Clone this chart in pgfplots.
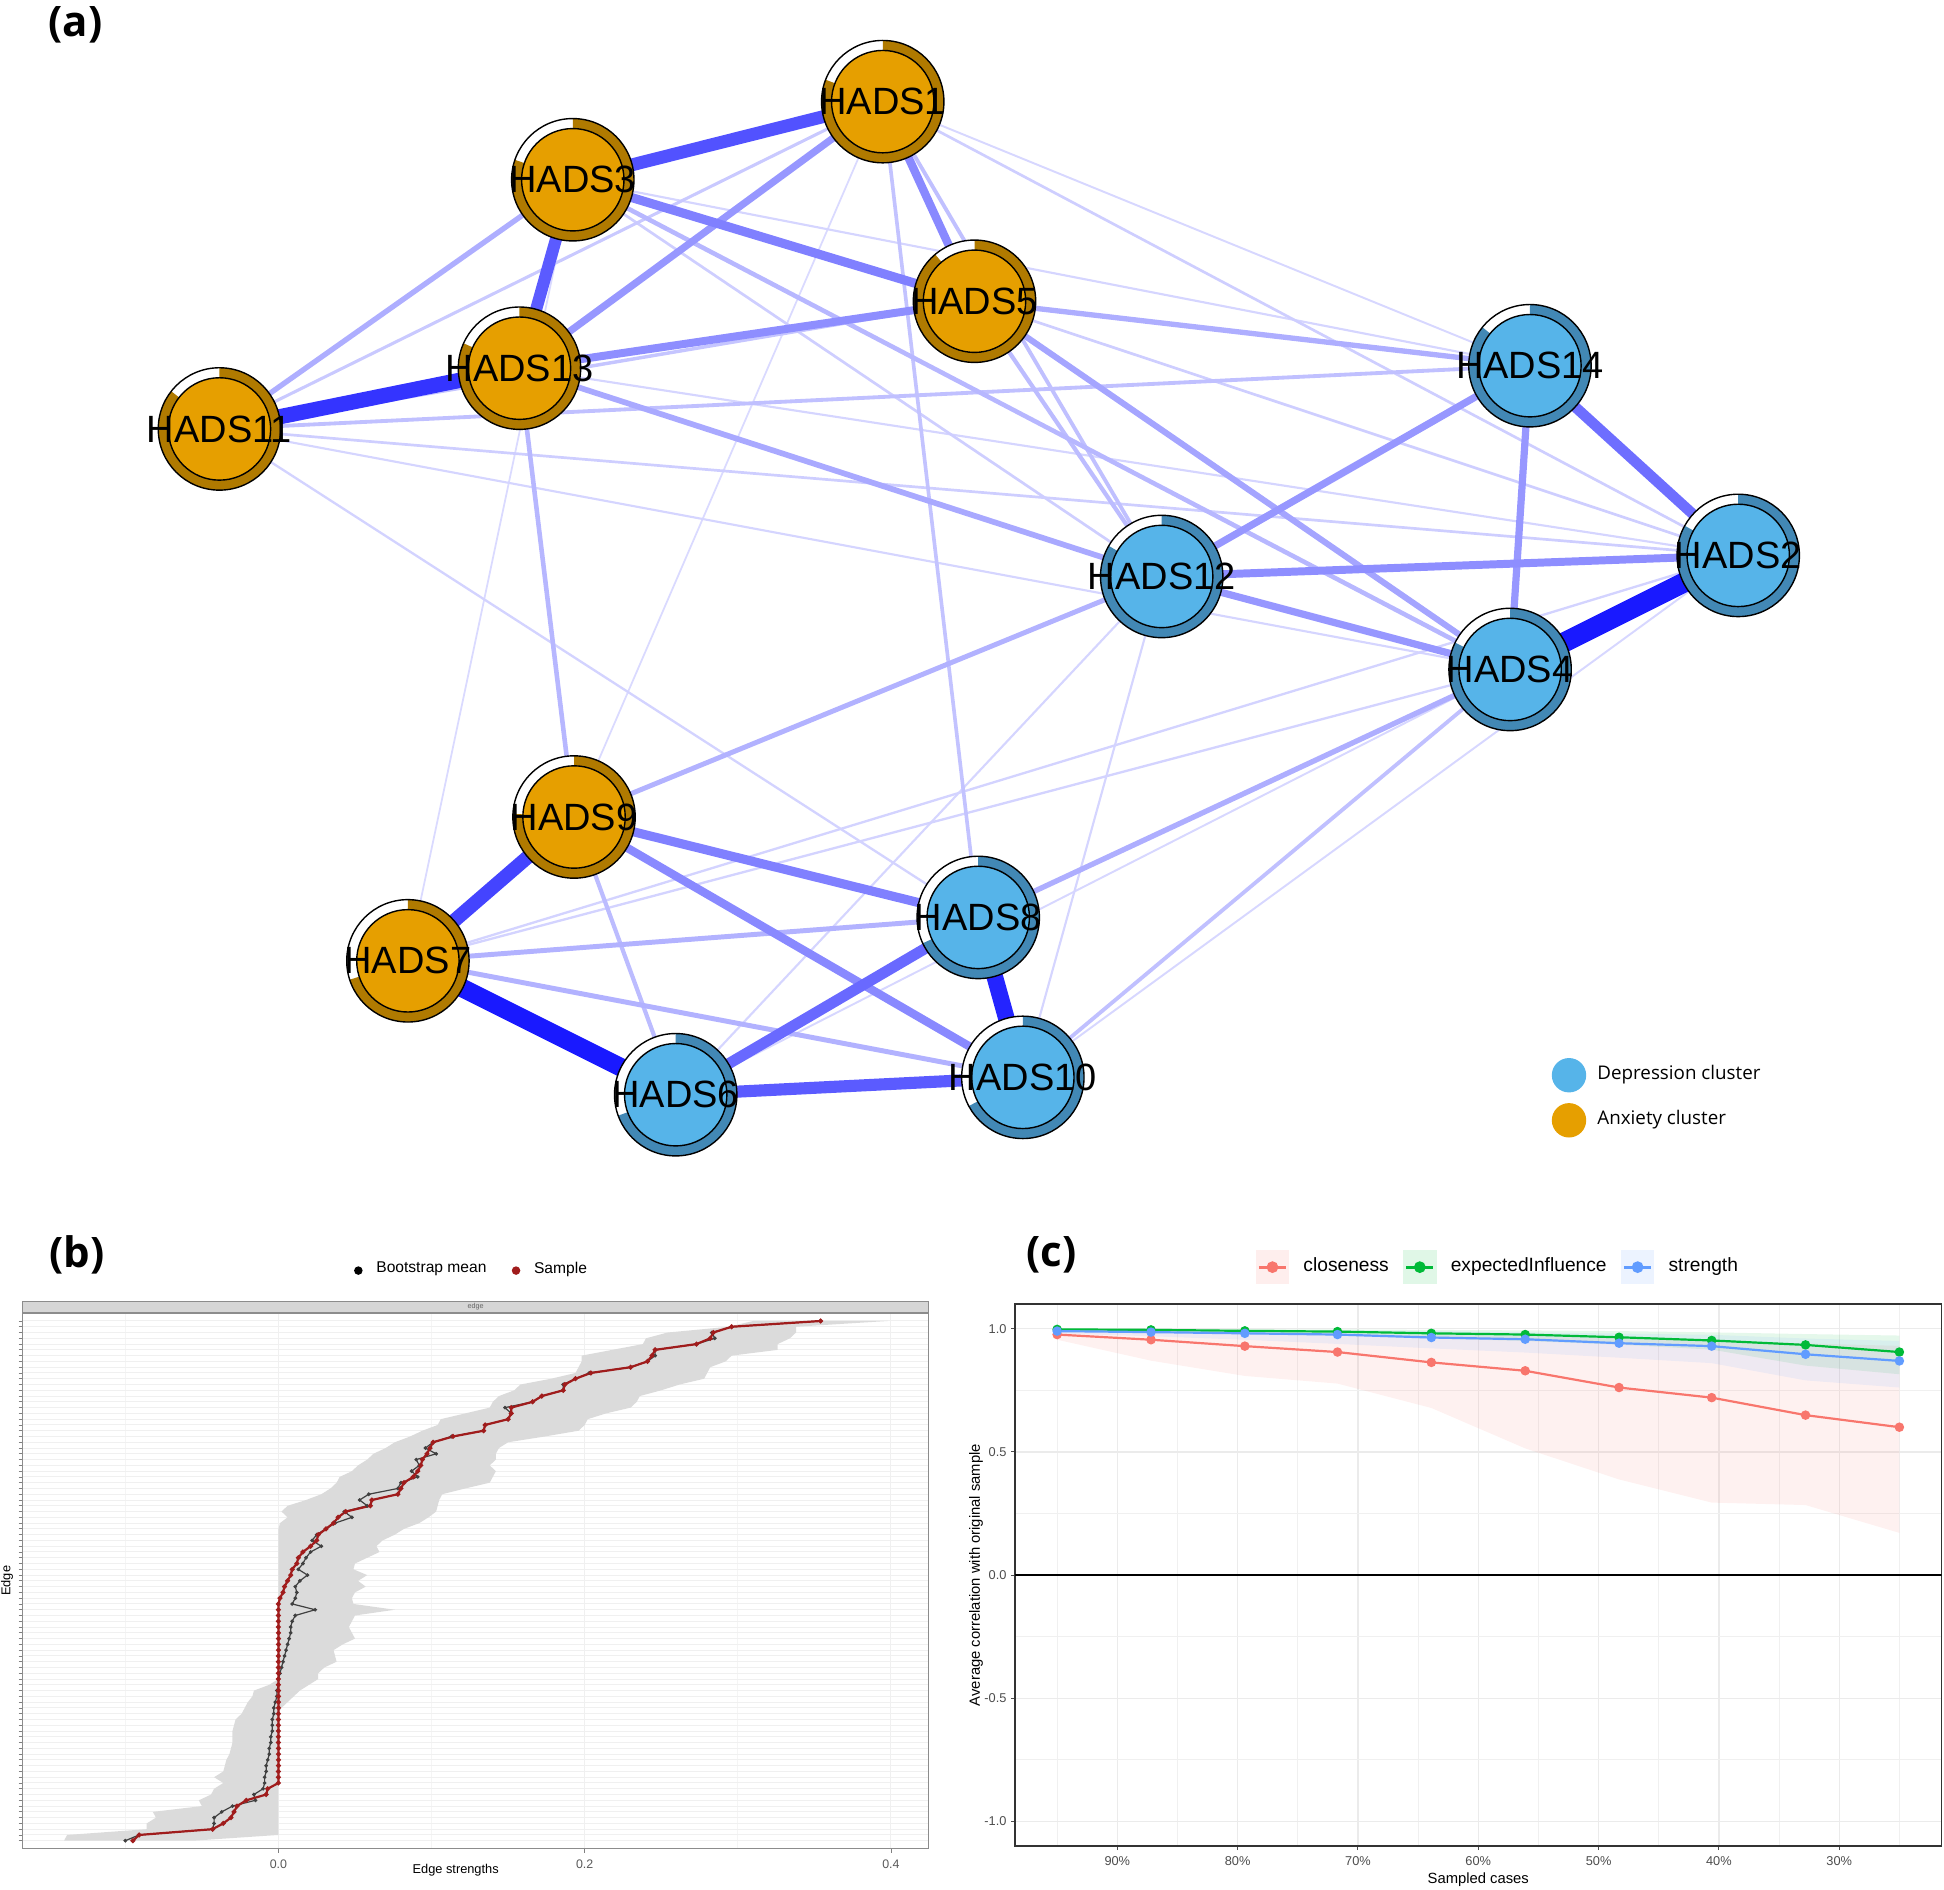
\documentclass[border=0pt]{standalone}
\usepackage{pgfplots}
\pgfplotsset{compat=1.18}
\usepackage{pgfplotstable}
\usepackage{fontspec}
\setmainfont{Liberation Sans}
\newfontfamily\opensans{Open Sans}

\definecolor{anxfill}{HTML}{E69F00}
\definecolor{anxring}{HTML}{B07A00}
\definecolor{depfill}{HTML}{56B4E9}
\definecolor{depring}{HTML}{4288B5}
\definecolor{closec}{HTML}{F8766D}
\definecolor{eic}{HTML}{00BA38}
\definecolor{strc}{HTML}{619CFF}
\definecolor{samplec}{HTML}{A01C1C}

\pgfplotsset{whiteang/.initial=60}

\newcommand\ringmark[2]{%
  \pgfmathsetmacro\pieend{\pgfkeysvalueof{/pgfplots/whiteang}-270}%
  \pgfsetlinewidth{0.35pt}%
  \pgfsetstrokecolor{black}%
  \pgfsetfillcolor{white}%
  \pgfpathcircle{\pgfpointorigin}{15.3pt}\pgfusepath{fill}%
  \pgfsetfillcolor{#1}%
  \pgfpathmoveto{\pgfpointorigin}%
  \pgfpathlineto{\pgfpointpolar{90}{15.3pt}}%
  \pgfpatharc{90}{\pieend}{15.3pt}%
  \pgfpathclose\pgfusepath{fill}%
  \pgfpathcircle{\pgfpointorigin}{15.3pt}\pgfusepath{stroke}%
  \pgfsetfillcolor{#2}%
  \pgfpathcircle{\pgfpointorigin}{12.8pt}\pgfusepath{fill,stroke}%
}
\pgfdeclareplotmark{hadsA}{\ringmark{anxring}{anxfill}}
\pgfdeclareplotmark{hadsD}{\ringmark{depring}{depfill}}

\newcommand\hadsfont{\fontsize{9.5}{10}\selectfont}

% node layout coordinates
\newcommand\N[3]{\expandafter\def\csname nx#1\endcsname{#2}\expandafter\def\csname ny#1\endcsname{#3}}
\N{1}{712}{82}
\N{3}{462}{145}
\N{5}{786}{243}
\N{13}{419}{297}
\N{11}{177}{346}
\N{14}{1234}{295}
\N{2}{1402}{448}
\N{12}{937}{465}
\N{4}{1218}{540}
\N{9}{463}{659}
\N{8}{789}{740}
\N{7}{329}{775}
\N{6}{545}{883}
\N{10}{825}{869}

% edge: node a, node b, relative weight (0-100)
\newcommand\E[3]{%
  \pgfmathsetmacro\ew{0.3+0.047*#3}%
  \pgfmathsetmacro\ec{min(90,12+0.9*#3)}%
  \edef\tmp{\noexpand\addplot[line width=\ew pt, color=blue!\ec!white, forget plot]
    coordinates {(\csname nx#1\endcsname,\csname ny#1\endcsname) (\csname nx#2\endcsname,\csname ny#2\endcsname)};}%
  \tmp}
% node ring: id, class, white arc angle
\newcommand\HN[3]{%
  \edef\tmp{\noexpand\addplot[only marks, mark=hads#2, whiteang=#3, forget plot]
    coordinates {(\csname nx#1\endcsname,\csname ny#1\endcsname)};}%
  \tmp}
% node label
\newcommand\HL[1]{%
  \edef\tmp{\noexpand\addplot[only marks, color=black, mark=text, text mark={\noexpand\hadsfont HADS#1}, forget plot]
    coordinates {(\csname nx#1\endcsname,\csname ny#1\endcsname)};}%
  \tmp}

\pgfplotstableread{
r samp mean
1 -0.095 -0.100
2 -0.091 -0.091
3 -0.043 -0.043
4 -0.036 -0.042
5 -0.031 -0.042
6 -0.029 -0.037
7 -0.027 -0.030
8 -0.021 -0.015
9 -0.008 -0.016
10 -0.007 -0.010
11 0 -0.009
12 0 -0.009
13 0 -0.008
14 0 -0.008
15 0 -0.007
16 0 -0.006
17 0 -0.006
18 0 -0.005
19 0 -0.005
20 0 -0.004
21 0 -0.004
22 0 -0.004
23 0 -0.003
24 0 -0.003
25 0 -0.002
26 0 -0.001
27 0 -0.001
28 0 0.000
29 0 0.000
30 0 0.001
31 0 0.002
32 0 0.003
33 0 0.004
34 0 0.005
35 0 0.006
36 0 0.007
37 0 0.008
38 0 0.008
39 0 0.009
40 0 0.011
41 0 0.024
42 0 0.009
43 0.001 0.011
44 0.003 0.012
45 0.004 0.011
46 0.006 0.014
47 0.008 0.019
48 0.009 0.013
49 0.012 0.016
50 0.013 0.018
51 0.016 0.021
52 0.021 0.028
53 0.025 0.022
54 0.026 0.025
55 0.031 0.031
56 0.036 0.037
57 0.039 0.048
58 0.044 0.043
59 0.060 0.058
60 0.061 0.053
61 0.078 0.059
62 0.080 0.078
63 0.082 0.080
64 0.088 0.091
65 0.091 0.087
66 0.093 0.092
67 0.094 0.090
68 0.097 0.103
69 0.099 0.096
70 0.101 0.101
71 0.114 0.113
72 0.134 0.134
73 0.135 0.135
74 0.150 0.150
75 0.152 0.152
76 0.152 0.148
77 0.166 0.166
78 0.172 0.172
79 0.186 0.186
80 0.187 0.186
81 0.194 0.194
82 0.204 0.203
83 0.230 0.230
84 0.241 0.241
85 0.244 0.246
86 0.246 0.246
87 0.273 0.273
88 0.282 0.285
89 0.284 0.283
90 0.296 0.296
91 0.354 0.354
}\bdata

% bootstrap CI band outline: lower bounds (rows 1..91), then upper bounds (rows 91..1)
\pgfplotstableread{
x y
-0.140 1
-0.138 2
-0.086 3
-0.086 4
-0.080 5
-0.082 6
-0.050 7
-0.052 8
-0.044 9
-0.042 10
-0.036 11
-0.042 12
-0.036 13
-0.035 14
-0.034 15
-0.032 16
-0.031 17
-0.030 18
-0.030 19
-0.030 20
-0.029 21
-0.028 22
-0.024 23
-0.022 24
-0.020 25
-0.017 26
-0.016 27
-0.006 28
0 29
0 55
0.001 56
0.006 57
0.002 58
0.006 59
0.018 60
0.028 61
0.034 62
0.038 63
0.040 64
0.048 65
0.052 66
0.058 67
0.062 68
0.070 69
0.076 70
0.086 71
0.094 72
0.104 73
0.106 74
0.122 75
0.138 76
0.140 77
0.144 78
0.154 79
0.158 80
0.178 81
0.194 82
0.196 83
0.198 84
0.198 85
0.218 86
0.238 87
0.240 88
0.254 89
0.294 90
0.310 91
0.398 91
0.338 90
0.338 89
0.334 88
0.326 87
0.326 86
0.296 85
0.292 84
0.282 83
0.280 82
0.278 81
0.262 80
0.250 79
0.236 78
0.234 77
0.230 76
0.214 75
0.202 74
0.200 73
0.196 72
0.174 71
0.150 70
0.144 69
0.142 68
0.142 67
0.138 66
0.142 65
0.140 64
0.138 63
0.122 62
0.107 61
0.105 60
0.104 59
0.103 58
0.098 57
0.092 56
0.082 55
0.076 54
0.068 53
0.064 52
0.066 51
0.058 50
0.050 49
0.049 48
0.058 47
0.052 46
0.057 45
0.050 44
0.048 43
0.049 42
0.076 41
0.050 40
0.048 39
0.046 38
0.048 37
0.050 36
0.042 35
0.036 34
0.037 33
0.038 32
0.030 31
0.026 30
0.026 29
0.020 28
0.014 27
0.010 26
0.006 25
0.002 24
0 23
0 2
-0.056 1
}\bband

\pgfplotstableread{
pct clo ei str
95 0.976 0.997 0.990
87.2 0.955 0.995 0.986
79.4 0.929 0.991 0.981
71.7 0.905 0.988 0.976
63.9 0.863 0.981 0.964
56.1 0.829 0.976 0.957
48.3 0.761 0.965 0.941
40.6 0.720 0.952 0.929
32.8 0.649 0.934 0.896
25 0.600 0.905 0.869
}\cdata

\begin{document}
\begin{tikzpicture}
\useasboundingbox (0pt,0pt) rectangle (486.08pt,472.44pt);

% ---------------- (a) network ----------------
\begin{axis}[at={(0pt,472.44pt)}, anchor=north west, scale only axis,
  width=486.08pt, height=297.6pt, xmin=0, xmax=1568, ymin=0, ymax=960, y dir=reverse,
  hide axis, clip=false,
  legend style={draw=none, fill=none, at={(axis cs:1251,852)}, anchor=north west,
     font=\opensans\fontsize{4.7}{5.6}\selectfont, row sep=2.2pt, inner sep=0pt},
  legend cell align=left,
  legend image code/.code={\path (0pt,0pt) (9.4pt,0pt); \path[#1] (4.3pt,0pt) circle (4.3pt);},
]
\E{9}{1}{3}
\E{7}{3}{3}
\E{10}{2}{4}
\E{6}{4}{4}
\E{1}{14}{4}
\E{11}{4}{5}
\E{3}{14}{5}
\E{13}{2}{5}
\E{6}{12}{5}
\E{10}{12}{5}
\E{7}{2}{6}
\E{7}{4}{6}
\E{11}{8}{6}
\E{11}{2}{8}
\E{3}{12}{8}
\E{5}{2}{8}
\E{1}{2}{8}
\E{11}{1}{10}
\E{11}{5}{12}
\E{10}{4}{14}
\E{1}{8}{13}
\E{1}{12}{14}
\E{11}{14}{14}
\E{9}{6}{16}
\E{5}{12}{16}
\E{3}{4}{18}
\E{13}{9}{18}
\E{9}{12}{20}
\E{7}{8}{20}
\E{7}{10}{20}
\E{5}{14}{22}
\E{11}{3}{22}
\E{8}{4}{22}
\E{13}{12}{24}
\E{5}{4}{26}
\E{13}{1}{32}
\E{12}{14}{32}
\E{12}{4}{32}
\E{14}{4}{32}
\E{13}{5}{36}
\E{12}{2}{36}
\E{1}{5}{38}
\E{9}{10}{38}
\E{3}{5}{42}
\E{9}{8}{42}
\E{14}{2}{50}
\E{6}{8}{52}
\E{3}{13}{58}
\E{6}{10}{58}
\E{3}{1}{62}
\E{7}{9}{68}
\E{11}{13}{75}
\E{8}{10}{82}
\E{7}{6}{92}
\E{4}{2}{100}
% nodes
\HN{1}{A}{69}
\HN{3}{A}{71}
\HN{5}{A}{40}
\HN{13}{A}{66}
\HN{11}{A}{52}
\HN{9}{A}{87}
\HN{7}{A}{108}
\HN{14}{D}{51}
\HN{2}{D}{61}
\HN{12}{D}{60}
\HN{4}{D}{64}
\HN{8}{D}{115}
\HN{6}{D}{110}
\HN{10}{D}{118}
\HL{1}\HL{3}\HL{5}\HL{13}\HL{11}\HL{9}\HL{7}
\HL{14}\HL{2}\HL{12}\HL{4}\HL{8}\HL{6}\HL{10}
\addlegendimage{fill=depfill, draw=none}
\addlegendentry{Depression cluster}
\addlegendimage{fill=anxfill, draw=none}
\addlegendentry{Anxiety cluster}
\end{axis}

% ---------------- (b) edge bootstrap ----------------
\begin{axis}[at={(5.673pt,10.23pt)}, anchor=south west, scale only axis,
  width=226.52pt, height=133.92pt,
  xmin=-0.167, xmax=0.4246, ymin=-0.35, ymax=92.4,
  xtick={0,0.2,0.4}, xticklabels={0.0,0.2,0.4}, minor xtick={-0.1,0.1,0.3},
  ytick={1,...,91}, yticklabels={},
  tick pos=left, tick align=outside, major tick length=1pt, minor tick length=0pt,
  tick style={black!50, line width=0.2pt},
  grid=both, major grid style={black!6, line width=0.25pt}, minor grid style={black!4, line width=0.2pt},
  axis line style={black!45, line width=0.4pt},
  ticklabel style={font=\fontsize{3.1}{3.5}\selectfont, text=black!65},
  xticklabel style={yshift=1.6pt},
  xlabel={Edge strengths}, ylabel={Edge},
  label style={font=\fontsize{3.2}{3.6}\selectfont, inner sep=0pt},
  xlabel style={at={(axis description cs:0.5,0)}, anchor=north, yshift=-3.8pt, xshift=-5pt},
  ylabel style={at={(axis description cs:-0.0097,0.5)}, anchor=south},
  every axis title shift=0pt,
  title={edge},
  title style={at={(axis description cs:0.5,1)}, anchor=south, yshift=0pt, fill=black!16, draw=black!45, line width=0.3pt,
     minimum width=226.52pt, minimum height=2.8pt, inner sep=0pt,
     font=\fontsize{1.8}{2}\selectfont, text=black!60},
  legend columns=2,
  legend style={draw=none, fill=none, at={(0.498,1.079)}, anchor=center,
     font=\fontsize{3.9}{4.5}\selectfont, /tikz/every even column/.append style={column sep=4pt}},
  legend image code/.code={\path (0pt,0pt) (3.5pt,0pt); \fill[#1] (1.2pt,0pt) circle (0.85pt);},
]
\addplot[fill=black!14, draw=none, forget plot] table[x=x, y=y] {\bband};
\addplot[black!75, line width=0.3pt, mark=*, mark size=0.3pt, forget plot] table[x=mean, y=r] {\bdata};
\addplot[samplec, line width=0.55pt, mark=*, mark size=0.3pt, forget plot] table[x=samp, y=r] {\bdata};
\addlegendimage{black}
\addlegendentry{Bootstrap mean}
\addlegendimage{samplec}
\addlegendentry{Sample}
\end{axis}

% ---------------- (c) case-drop stability ----------------
\begin{axis}[at={(253.80pt,10.85pt)}, anchor=south west, scale only axis,
  width=231.66pt, height=135.53pt,
  xmin=21.5, xmax=98.5, x dir=reverse, ymin=-1.1, ymax=1.1,
  xtick={30,40,50,60,70,80,90}, xticklabels={30\%,40\%,50\%,60\%,70\%,80\%,90\%},
  minor xtick={25,35,45,55,65,75,85,95},
  ytick={-1,-0.5,0,0.5,1}, yticklabels={-1.0,-0.5,0.0,0.5,1.0},
  minor ytick={-0.75,-0.25,0.25,0.75},
  tick pos=left, tick align=outside, major tick length=1pt, minor tick length=0pt,
  tick style={black!70, line width=0.25pt},
  grid=both, major grid style={black!8, line width=0.35pt}, minor grid style={black!6, line width=0.25pt},
  axis line style={black!80, line width=0.45pt},
  ticklabel style={font=\fontsize{3.2}{3.6}\selectfont, text=black!70},
  xticklabel style={yshift=1.9pt},
  yticklabel style={xshift=2.4pt},
  xlabel={Sampled cases}, ylabel={Average correlation with original sample},
  label style={font=\fontsize{3.7}{4.2}\selectfont, inner sep=0pt},
  xlabel style={at={(axis description cs:0.5,0)}, anchor=north, yshift=-6.6pt},
  ylabel style={at={(axis description cs:-0.0337,0.5)}, anchor=south},
  legend columns=3,
  legend style={draw=none, fill=none, at={(0.5236,1.068)}, anchor=center,
     font=\fontsize{4.8}{5.7}\selectfont, /tikz/every even column/.append style={column sep=1.2pt}},
  legend image code/.code={\path (0pt,0pt) (9.6pt,0pt);
     \fill[#1, fill opacity=0.12, draw=none] (0pt,-4.2pt) rectangle (8.4pt,4.2pt);
     \draw[#1, mark repeat=2, mark phase=2] plot coordinates {(0.8pt,0pt) (4.2pt,0pt) (7.6pt,0pt)};},
]
% bands: lower bounds 95%..25%, then upper bounds 25%..95%
\addplot[fill=closec, fill opacity=0.1, draw=none, forget plot] coordinates {
 (95,0.955) (87.2,0.870) (79.4,0.808) (71.7,0.777) (63.9,0.678) (56.1,0.514) (48.3,0.388) (40.6,0.294) (32.8,0.284) (25,0.171)
 (25,0.930) (32.8,0.940) (40.6,0.950) (48.3,0.960) (56.1,0.970) (63.9,0.975) (71.7,0.980) (79.4,0.985) (87.2,0.990) (95,0.990)};
\addplot[fill=eic, fill opacity=0.1, draw=none, forget plot] coordinates {
 (95,0.990) (87.2,0.985) (79.4,0.978) (71.7,0.972) (63.9,0.960) (56.1,0.950) (48.3,0.935) (40.6,0.915) (32.8,0.850) (25,0.815)
 (25,0.972) (32.8,0.978) (40.6,0.985) (48.3,0.990) (56.1,0.993) (63.9,0.995) (71.7,0.997) (79.4,0.998) (87.2,1.000) (95,1.000)};
\addplot[fill=strc, fill opacity=0.1, draw=none, forget plot] coordinates {
 (95,0.981) (87.2,0.969) (79.4,0.955) (71.7,0.938) (63.9,0.920) (56.1,0.903) (48.3,0.882) (40.6,0.860) (32.8,0.790) (25,0.761)
 (25,0.950) (32.8,0.960) (40.6,0.975) (48.3,0.980) (56.1,0.985) (63.9,0.990) (71.7,0.993) (79.4,0.995) (87.2,0.997) (95,0.998)};
\addplot[black, line width=0.45pt, forget plot] coordinates {(21.5,0) (98.5,0)};
\addplot[closec, line width=0.55pt, mark=*, mark size=0.9pt, forget plot] table[x=pct, y=clo] {\cdata};
\addplot[eic, line width=0.55pt, mark=*, mark size=0.9pt, forget plot] table[x=pct, y=ei] {\cdata};
\addplot[strc, line width=0.55pt, mark=*, mark size=0.9pt, forget plot] table[x=pct, y=str] {\cdata};
\addlegendimage{closec, line width=0.7pt, mark=*, mark size=1.1pt}
\addlegendentry{closeness}
\addlegendimage{eic, line width=0.7pt, mark=*, mark size=1.1pt}
\addlegendentry{expectedInfluence}
\addlegendimage{strc, line width=0.7pt, mark=*, mark size=1.1pt}
\addlegendentry{strength}
\end{axis}

\node[font=\opensans\bfseries\fontsize{10.5}{12}\selectfont] at (18.9pt,466.2pt) {(a)};
\node[font=\opensans\bfseries\fontsize{10.5}{12}\selectfont] at (19.2pt,158.7pt) {(b)};
\node[font=\opensans\bfseries\fontsize{10.5}{12}\selectfont] at (262.9pt,158.7pt) {(c)};
\end{tikzpicture}
\end{document}
